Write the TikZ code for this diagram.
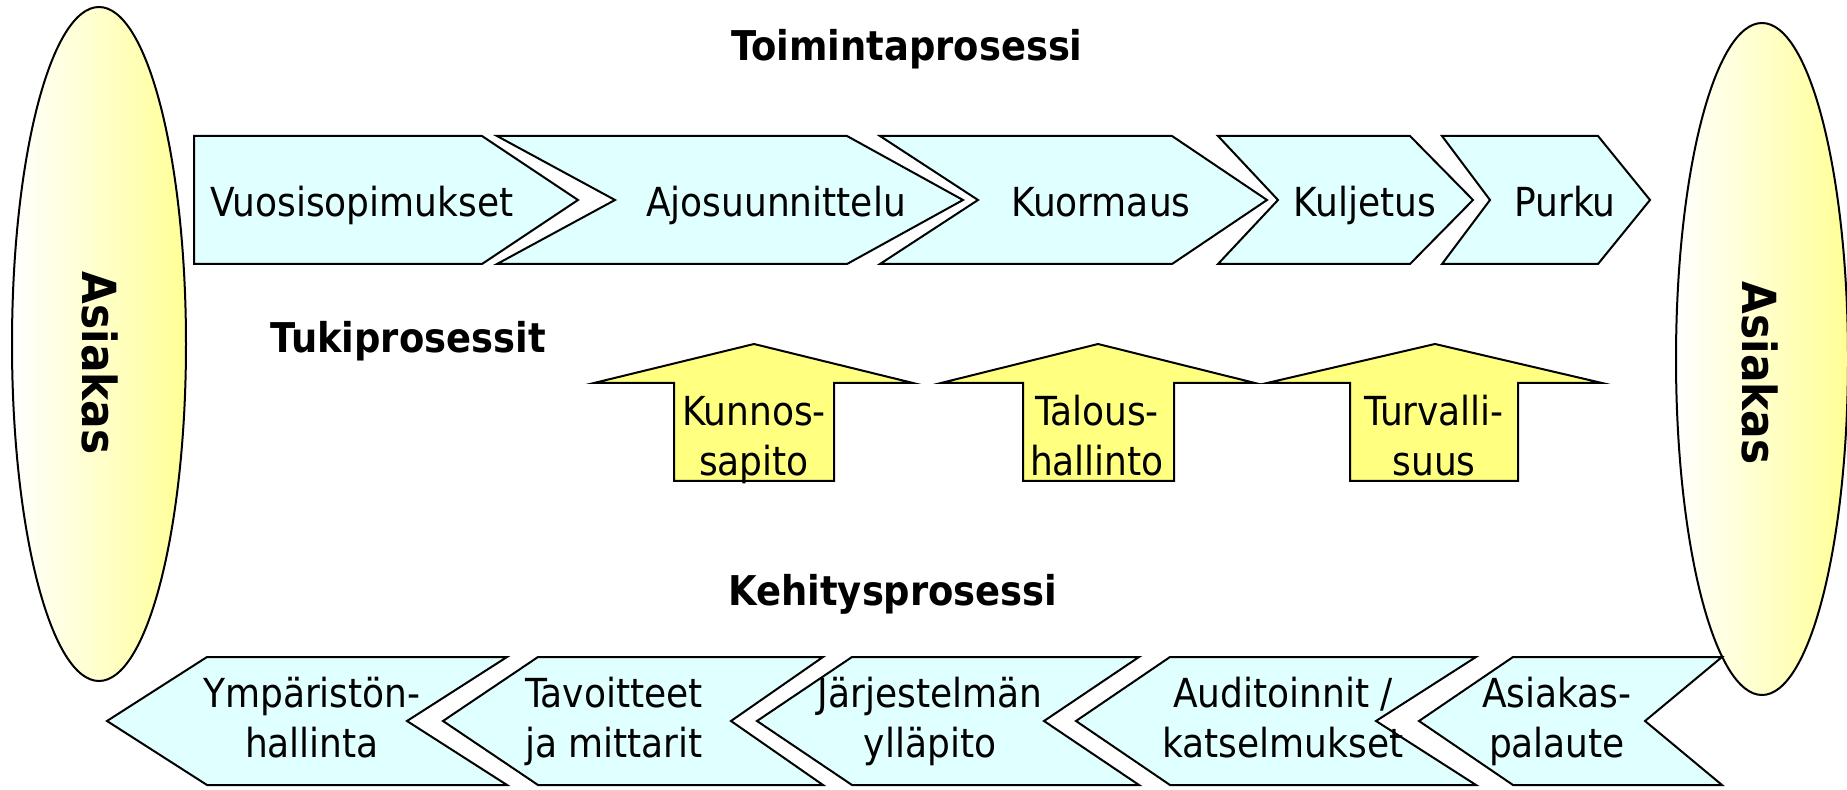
\documentclass[tikz,border=0pt]{standalone}
\usepackage{fontspec}
\setmainfont{DejaVuSansCondensed.ttf}[BoldFont=DejaVuSansCondensed-Bold.ttf]
\definecolor{procfill}{RGB}{224,255,255}
\definecolor{supfill}{RGB}{255,255,128}
\definecolor{custfill}{RGB}{255,255,150}

\begin{document}
\begin{tikzpicture}[x=0.5pt, y=-0.5pt, line width=1pt,
    every node/.style={inner sep=0pt, font=\fontsize{20}{25}\selectfont},
    chev/.style={draw, fill=procfill},
    uparrow/.style={draw, fill=supfill},
    cust/.style={draw, left color=white, right color=custfill},
    txt/.style={anchor=base, align=center},
    heading/.style={anchor=base, font=\fontsize{20.5}{25}\selectfont\bfseries}]
    \useasboundingbox (0,0) rectangle (1847,790);

    % asiakas
    \draw[cust] (99,344) ellipse [x radius=87, y radius=337];
    \draw[cust] (1762,359) ellipse [x radius=86, y radius=336];
    \node (custL) [rotate=-90, font=\fontsize{23.5}{25}\selectfont\bfseries] at (100,363) {Asiakas};
    \node (custR) [rotate=-90, font=\fontsize{23.5}{25}\selectfont\bfseries] at (1760,373) {Asiakas};

    % toimintaprosessi
    \node (main) [heading] at (907,61) {Toimintaprosessi};
    \draw[chev] (194,136) -- (482,136) -- (578,200) -- (482,264) -- (194,264) -- cycle;
    \draw[chev] (497,136) -- (847,136) -- (963,200) -- (847,264) -- (497,264) -- (615,200) -- cycle;
    \draw[chev] (880,136) -- (1172,136) -- (1267,200) -- (1172,264) -- (880,264) -- (978,200) -- cycle;
    \draw[chev] (1218,136) -- (1410,136) -- (1473,200) -- (1410,264) -- (1218,264) -- (1278,200) -- cycle;
    \draw[chev] (1442,136) -- (1598,136) -- (1650,200) -- (1598,264) -- (1442,264) -- (1490,200) -- cycle;
    \node (m1) [txt] at (362,217) {Vuosisopimukset};
    \node (m2) [txt] at (776,217) {Ajosuunnittelu};
    \node (m3) [txt] at (1101,217) {Kuormaus};
    \node (m4) [txt] at (1365,217) {Kuljetus};
    \node (m5) [txt] at (1565,217) {Purku};

    % tukiprosessit
    \node (sup) [heading] at (408,353) {Tukiprosessit};
    \draw[uparrow] (674,481) -- (674,383) -- (594,383) -- (754,344) -- (913,383) -- (834,383) -- (834,481) -- cycle;
    \draw[uparrow] (1023,481) -- (1023,383) -- (941,383) -- (1098,344) -- (1255,383) -- (1174,383) -- (1174,481) -- cycle;
    \draw[uparrow] (1350,481) -- (1350,383) -- (1267,383) -- (1435,344) -- (1602,383) -- (1518,383) -- (1518,481) -- cycle;
    \node (s1) [txt] at (754,476) {Kunnos-\\sapito};
    \node (s2) [txt] at (1097,476) {Talous-\\hallinto};
    \node (s3) [txt] at (1434,476) {Turvalli-\\suus};

    % kehitysprosessi
    \node (dev) [heading] at (893,605) {Kehitysprosessi};
    \draw[chev] (107,721) -- (207,657) -- (507,657) -- (407,721) -- (507,785) -- (207,785) -- cycle;
    \draw[chev] (443,721) -- (538,657) -- (823,657) -- (731,721) -- (823,785) -- (538,785) -- cycle;
    \draw[chev] (757,721) -- (852,657) -- (1139,657) -- (1044,721) -- (1139,785) -- (852,785) -- cycle;
    \draw[chev] (1076,721) -- (1170,657) -- (1476,657) -- (1376,721) -- (1476,785) -- (1170,785) -- cycle;
    \draw[chev] (1419,721) -- (1513,657) -- (1722,657) -- (1645,721) -- (1722,785) -- (1513,785) -- cycle;
    \node (d1) [txt] at (312,757) {Ympäristön-\\hallinta};
    \node (d2) [txt] at (614,757) {Tavoitteet\\ja mittarit};
    \node (d3) [txt] at (930,757) {Järjestelmän\\ylläpito};
    \node (d4) [txt] at (1283,757) {Auditoinnit /\\katselmukset};
    \node (d5) [txt] at (1557,757) {Asiakas-\\palaute};
\end{tikzpicture}
\end{document}
